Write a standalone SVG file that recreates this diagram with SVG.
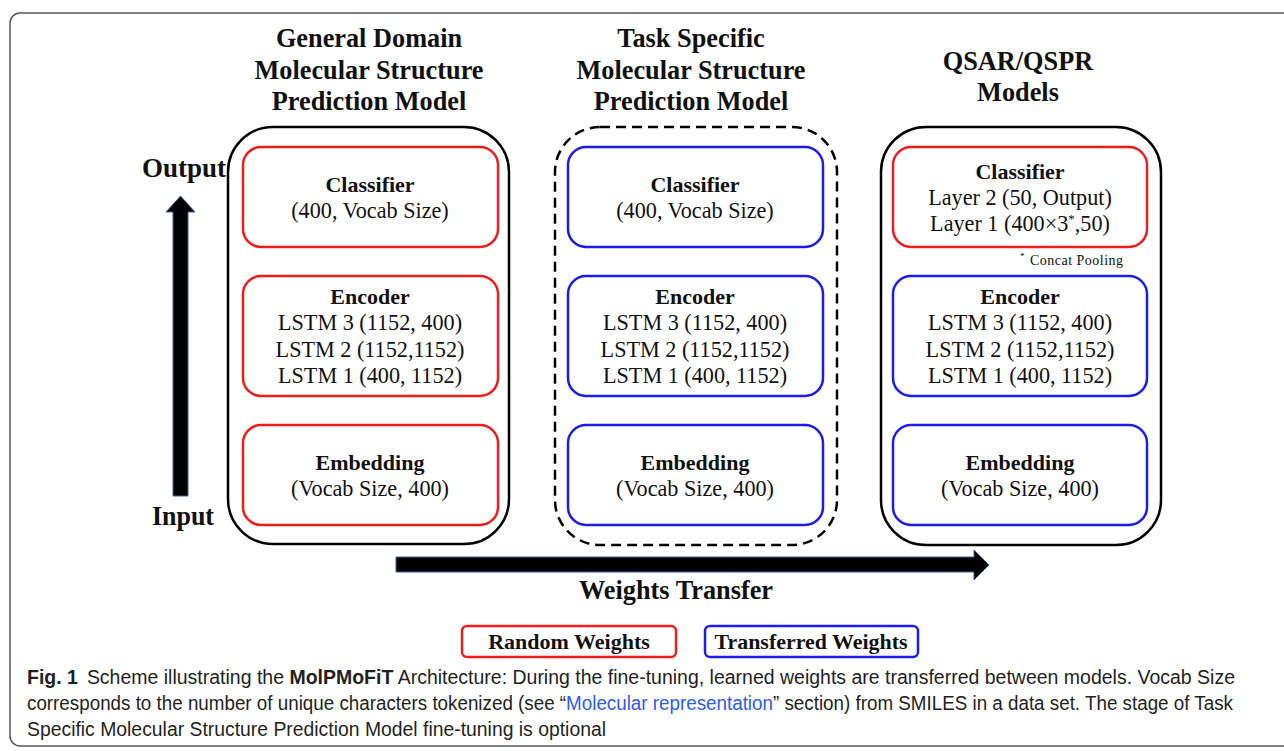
<svg xmlns="http://www.w3.org/2000/svg" width="1284" height="751" viewBox="0 0 1284 751">
  <style>
    .serif { font-family: "Liberation Serif", "Times New Roman", serif; fill: #111; }
    .title { font-size: 26.3px; font-weight: bold; text-anchor: middle; }
    .head { font-size: 22px; font-weight: bold; text-anchor: middle; }
    .body { font-size: 22.2px; text-anchor: middle; }
    .axis { font-size: 27px; font-weight: bold; }
    .legend { font-size: 22px; font-weight: bold; text-anchor: middle; }
    .model { fill: none; stroke: #000; stroke-width: 2.5; }
    .dashed { stroke-dasharray: 10 6; }
    .red { fill: #fff; stroke: #f21c1c; stroke-width: 2.5; }
    .blue { fill: #fff; stroke: #1c1cf0; stroke-width: 2.5; }
    .arrow { fill: #000; stroke: #3d5e9e; stroke-width: 1; }
    .cap { font-family: "Liberation Sans", Arial, sans-serif; font-size: 19.5px; fill: #231f20; }
    .capb { font-weight: bold; }
    .link { fill: #2d5bf5; }
  </style>

  <!-- figure frame -->
  <rect x="10" y="13" width="1300" height="733" rx="10" fill="#fff" stroke="#555" stroke-width="1.5"/>

  <!-- connectors: data flow and weight transfer -->
  <g id="connectors">
    <path class="arrow" d="M173 496 V212 H166 L180.5 196 L195 212 H188 V496 Z"/>
    <path class="arrow" d="M396 557 H974 V550 L989 565 L974 580 V572 H396 Z"/>
  </g>

  <g id="axis-labels" class="serif">
    <text class="axis" x="142" y="177" textLength="84" lengthAdjust="spacingAndGlyphs">Output</text>
    <text class="axis" x="152" y="525" textLength="62" lengthAdjust="spacingAndGlyphs">Input</text>
    <text class="title" x="676" y="599">Weights Transfer</text>
  </g>

  <!-- General domain model -->
  <g id="general-model" class="serif">
    <text class="title" x="369" y="47">General Domain</text>
    <text class="title" x="369" y="79">Molecular Structure</text>
    <text class="title" x="369" y="110">Prediction Model</text>
    <rect class="model" x="228" y="127" width="281" height="417" rx="45"/>
    <g id="general-classifier">
      <rect class="red" x="243" y="147" width="255" height="100" rx="18"/>
      <text class="head" x="370" y="192">Classifier</text>
      <text class="body" x="370" y="218">(400, Vocab Size)</text>
    </g>
    <g id="general-encoder">
      <rect class="red" x="243" y="276" width="255" height="120" rx="18"/>
      <text class="head" x="370" y="304">Encoder</text>
      <text class="body" x="370" y="330">LSTM 3 (1152, 400)</text>
      <text class="body" x="370" y="357">LSTM 2 (1152,1152)</text>
      <text class="body" x="370" y="383">LSTM 1 (400, 1152)</text>
    </g>
    <g id="general-embedding">
      <rect class="red" x="243" y="425" width="255" height="100" rx="18"/>
      <text class="head" x="370" y="470">Embedding</text>
      <text class="body" x="370" y="496">(Vocab Size, 400)</text>
    </g>
  </g>

  <!-- Task specific model (optional stage) -->
  <g id="task-model" class="serif">
    <text class="title" x="691" y="47">Task Specific</text>
    <text class="title" x="691" y="79">Molecular Structure</text>
    <text class="title" x="691" y="110">Prediction Model</text>
    <rect class="model dashed" x="555" y="127" width="282" height="418" rx="45"/>
    <g id="task-classifier">
      <rect class="blue" x="568" y="147" width="255" height="100" rx="18"/>
      <text class="head" x="695" y="192">Classifier</text>
      <text class="body" x="695" y="218">(400, Vocab Size)</text>
    </g>
    <g id="task-encoder">
      <rect class="blue" x="568" y="276" width="255" height="120" rx="18"/>
      <text class="head" x="695" y="304">Encoder</text>
      <text class="body" x="695" y="330">LSTM 3 (1152, 400)</text>
      <text class="body" x="695" y="357">LSTM 2 (1152,1152)</text>
      <text class="body" x="695" y="383">LSTM 1 (400, 1152)</text>
    </g>
    <g id="task-embedding">
      <rect class="blue" x="568" y="425" width="255" height="100" rx="18"/>
      <text class="head" x="695" y="470">Embedding</text>
      <text class="body" x="695" y="496">(Vocab Size, 400)</text>
    </g>
  </g>

  <!-- QSAR/QSPR model -->
  <g id="qsar-model" class="serif">
    <text class="title" x="1018" y="70">QSAR/QSPR</text>
    <text class="title" x="1018" y="101">Models</text>
    <rect class="model" x="881" y="127" width="280" height="418" rx="45"/>
    <g id="qsar-classifier">
      <rect class="red" x="893" y="147" width="254" height="100" rx="18"/>
      <text class="head" x="1020" y="179">Classifier</text>
      <text class="body" x="1020" y="205">Layer 2 (50, Output)</text>
      <text class="body" x="1020" y="231">Layer 1 (400×3<tspan font-size="13" dy="-8">*</tspan><tspan dy="8">,50)</tspan></text>
    </g>
    <text x="1020" y="259" font-size="9" font-family="Liberation Serif, serif" fill="#111">*</text>
    <text x="1030" y="265" font-size="14" font-family="Liberation Serif, serif" fill="#111" textLength="93" lengthAdjust="spacing">Concat Pooling</text>
    <g id="qsar-encoder">
      <rect class="blue" x="893" y="276" width="254" height="120" rx="18"/>
      <text class="head" x="1020" y="304">Encoder</text>
      <text class="body" x="1020" y="330">LSTM 3 (1152, 400)</text>
      <text class="body" x="1020" y="357">LSTM 2 (1152,1152)</text>
      <text class="body" x="1020" y="383">LSTM 1 (400, 1152)</text>
    </g>
    <g id="qsar-embedding">
      <rect class="blue" x="893" y="425" width="254" height="100" rx="18"/>
      <text class="head" x="1020" y="470">Embedding</text>
      <text class="body" x="1020" y="496">(Vocab Size, 400)</text>
    </g>
  </g>

  <!-- legend -->
  <g id="legend-random" class="serif">
    <rect class="red" x="462" y="626" width="214" height="31" rx="5"/>
    <text class="legend" x="569" y="649">Random Weights</text>
  </g>
  <g id="legend-transferred" class="serif">
    <rect class="blue" x="705" y="626" width="213" height="31" rx="5"/>
    <text class="legend" x="811" y="649" textLength="193" lengthAdjust="spacingAndGlyphs">Transferred Weights</text>
  </g>

  <!-- caption -->
  <g id="caption" class="cap">
    <text x="27" y="684" textLength="1208" lengthAdjust="spacingAndGlyphs"><tspan class="capb">Fig. 1</tspan><tspan dx="9">Scheme illustrating the </tspan><tspan class="capb">MolPMoFiT</tspan> Architecture: During the fine-tuning, learned weights are transferred between models. Vocab Size</text>
    <text x="27" y="710" textLength="1206" lengthAdjust="spacingAndGlyphs">corresponds to the number of unique characters tokenized (see “<tspan class="link">Molecular representation</tspan>” section) from SMILES in a data set. The stage of Task</text>
    <text x="27" y="736" textLength="579" lengthAdjust="spacingAndGlyphs">Specific Molecular Structure Prediction Model fine-tuning is optional</text>
  </g>
</svg>
